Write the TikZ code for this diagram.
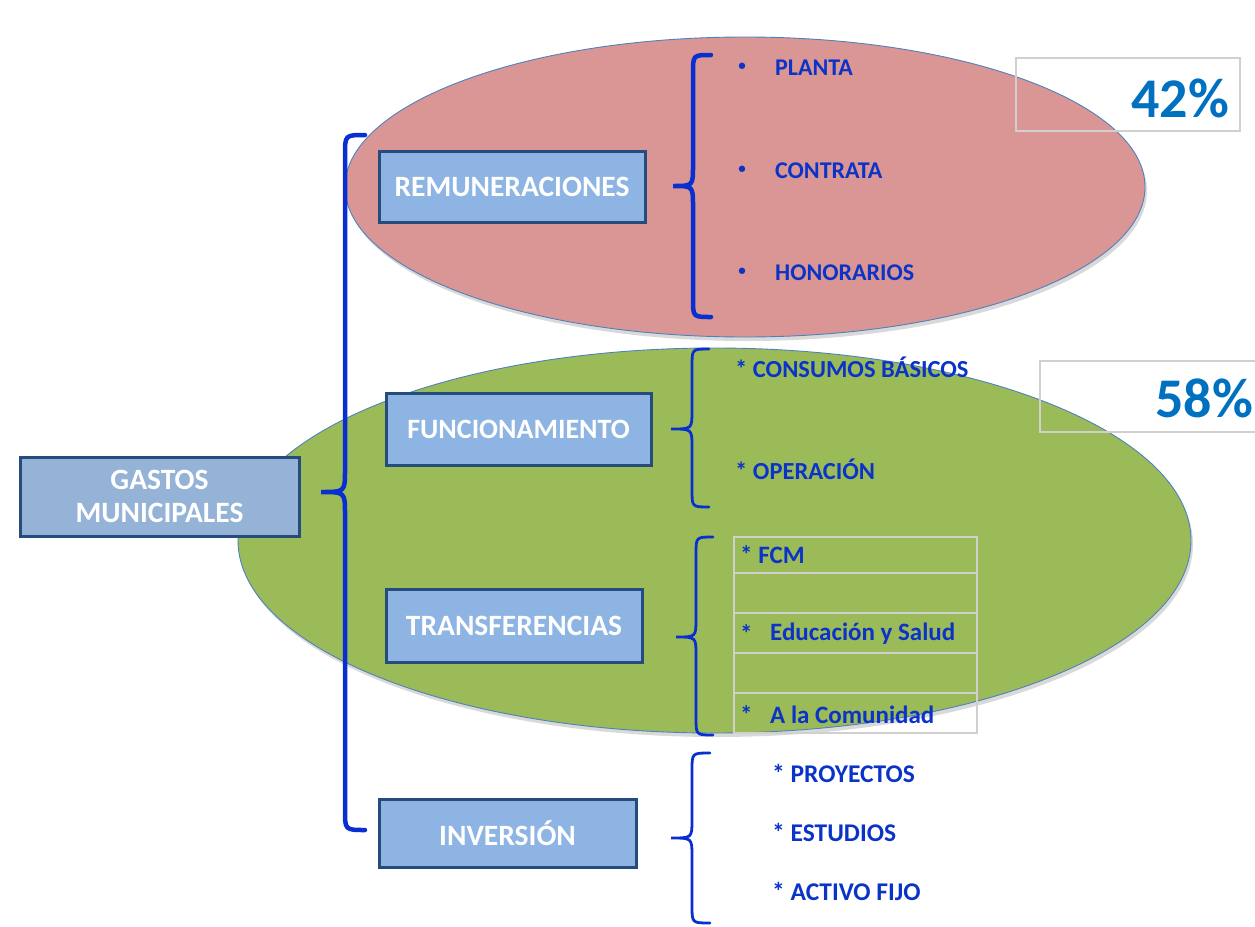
\documentclass[tikz,border=0pt]{standalone}
\usepackage{fontspec}
\setmainfont{Carlito}
\usetikzlibrary{shadows}
\definecolor{boxline}{HTML}{264B7D}
\definecolor{boxfill}{HTML}{8EB4E3}
\definecolor{gfill}{HTML}{95B3D7}
\definecolor{redell}{HTML}{D99694}
\definecolor{greenell}{HTML}{9BBB59}
\definecolor{ellline}{HTML}{4F81BD}
\definecolor{bracecol}{HTML}{0A2FD0}
\definecolor{itemcol}{HTML}{0B33C8}
\definecolor{pctcol}{HTML}{0070C0}
\definecolor{graybox}{HTML}{D0D0D0}
\begin{document}
\begin{tikzpicture}[x=1pt,y=-1pt,
  mainbox/.style={draw=boxline,line width=3pt,fill=boxfill,text=white,
    font=\bfseries\fontsize{29.5}{33}\selectfont,align=center,inner sep=0pt},
  ell/.style={draw=ellline,line width=0.9pt,
    drop shadow={opacity=0.3,shadow xshift=2pt,shadow yshift=-4pt}},
  bracethick/.style={draw=bracecol,line width=4.5pt,line cap=round},
  bracethin/.style={draw=bracecol,line width=2.8pt,line cap=round},
  itemA/.style={text=itemcol,font=\bfseries\fontsize{24}{27}\selectfont,anchor=west,inner sep=0pt},
  itemT/.style={text=itemcol,font=\bfseries\fontsize{25}{28}\selectfont,anchor=west,inner sep=0pt},
  itemI/.style={text=itemcol,font=\bfseries\fontsize{25.5}{28}\selectfont,anchor=west,inner sep=0pt},
  itemB/.style={text=itemcol,font=\bfseries\fontsize{24.5}{27}\selectfont,anchor=west,inner sep=0pt},
  bul/.style={text=itemcol,font=\bfseries\fontsize{15}{18}\selectfont,inner sep=0pt},
  pctbox/.style={draw=graybox,line width=2.5pt},
  pct/.style={text=pctcol,font=\bfseries\fontsize{56}{60}\selectfont,anchor=east,inner sep=0pt},
  cell/.style={draw=graybox,line width=2.2pt}
]
\useasboundingbox (0,0) rectangle (1255,926);

% ellipses
\path[ell,fill=redell] (745,187) ellipse [x radius=400,y radius=150];
\path[ell,fill=greenell] (714.5,540.5) ellipse [x radius=476.5,y radius=192.5];

% main boxes
\node[mainbox,fill=gfill,minimum width=279pt,minimum height=79pt] (gastos) at (159.5,496.5) {GASTOS\\MUNICIPALES};
\node[mainbox,minimum width=266pt,minimum height=71pt] (remun) at (512,186.5) {REMUNERACIONES};
\node[mainbox,font=\bfseries\fontsize{28}{33}\selectfont,minimum width=265pt,minimum height=72pt] (func) at (518.5,429) {FUNCIONAMIENTO};
\node[mainbox,minimum width=256pt,minimum height=73pt] (transf) at (514,625.5) {TRANSFERENCIAS};
\node[mainbox,minimum width=257pt,minimum height=68pt] (inv) at (507.5,833) {INVERSIÓN};

% big brace
\coordinate (bTop) at (365,135);
\coordinate (bTip) at (321,492);
\coordinate (bBot) at (365,830);
\draw[bracethick] (bTop) .. controls (345,135) .. (345,155) -- (345,470)
  .. controls (345,492) .. (bTip) .. controls (345,492) .. (345,514) -- (345,810)
  .. controls (345,830) .. (bBot);

% remuneraciones brace
\coordinate (rTop) at (711,55);
\coordinate (rTip) at (673,186);
\coordinate (rBot) at (711,317);
\draw[bracethick] (rTop) .. controls (693,55) .. (693,73) -- (693,166)
  .. controls (693,186) .. (rTip) .. controls (693,186) .. (693,206) -- (693,299)
  .. controls (693,317) .. (rBot);

% funcionamiento brace
\coordinate (fTop) at (709,349);
\coordinate (fTip) at (671,429);
\coordinate (fBot) at (709,507);
\draw[bracethin] (fTop) .. controls (692,349) .. (692,366) -- (692,411)
  .. controls (692,429) .. (fTip) .. controls (692,429) .. (692,447) -- (692,490)
  .. controls (692,507) .. (fBot);

% transferencias brace
\coordinate (tTop) at (713,537);
\coordinate (tTip) at (676,637);
\coordinate (tBot) at (713,735);
\draw[bracethin] (tTop) .. controls (696,537) .. (696,554) -- (696,619)
  .. controls (696,637) .. (tTip) .. controls (696,637) .. (696,655) -- (696,718)
  .. controls (696,735) .. (tBot);

% inversion brace
\coordinate (iTop) at (710,753);
\coordinate (iTip) at (671,838);
\coordinate (iBot) at (710,923);
\draw[bracethin] (iTop) .. controls (692,753) .. (692,770) -- (692,820)
  .. controls (692,838) .. (iTip) .. controls (692,838) .. (692,856) -- (692,906)
  .. controls (692,923) .. (iBot);

% remuneraciones items
\node[bul] (b1) at (742,67) {•};
\node[itemA] (planta) at (775,68) {PLANTA};
\node[bul] (b2) at (742,170) {•};
\node[itemA] (contrata) at (775,171) {CONTRATA};
\node[bul] (b3) at (742,272) {•};
\node[itemA] (honor) at (775,273) {HONORARIOS};

% funcionamiento items
\node[itemB] (consumos) at (735,367) {* CONSUMOS BÁSICOS};
\node[itemB] (operacion) at (735,469) {* OPERACIÓN};

% transfer table
\draw[cell] (734,537) rectangle (977,573);
\draw[cell] (734,573) rectangle (977,613);
\draw[cell] (734,613) rectangle (977,653);
\draw[cell] (734,653) rectangle (977,693);
\draw[cell] (734,693) rectangle (977,733);
\node[itemT] (fcm) at (740,555) {* FCM};
\node[itemT] (st1) at (740,634) {*};
\node[itemT] (edu) at (770,634) {Educación y Salud};
\node[itemT] (st2) at (740,715) {*};
\node[itemT] (com) at (770,715) {A la Comunidad};

% inversion items
\node[itemI] (proy) at (772,773) {* PROYECTOS};
\node[itemI] (est) at (772,832) {* ESTUDIOS};
\node[itemI] (act) at (772,891) {* ACTIVO FIJO};

% percentages
\draw[pctbox] (1016,58) rectangle (1240,131);
\node[pct] (p42) at (1229,98) {42\%};
\draw[pctbox] (1040,361) rectangle (1262,432);
\node[pct] (p58) at (1253,398) {58\%};
\end{tikzpicture}
\end{document}
